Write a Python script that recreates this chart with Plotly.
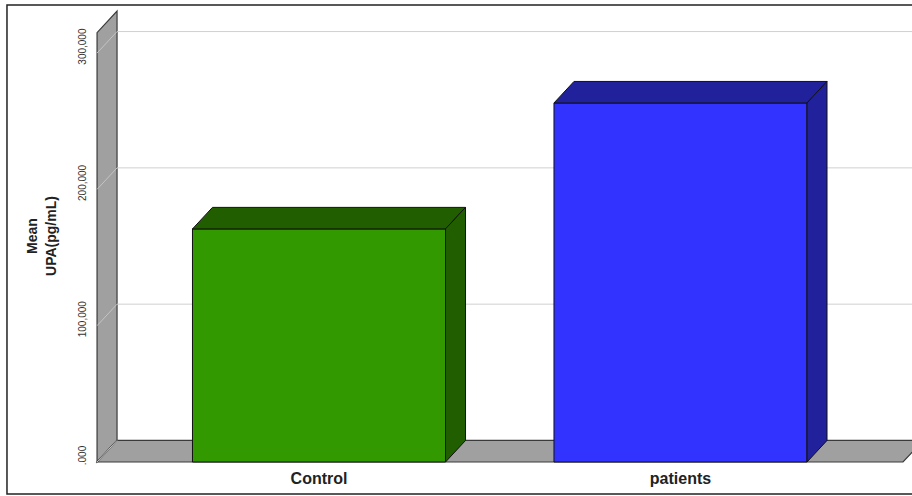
import plotly.graph_objects as go

# ---- data ----
categories = ["Control", "patients"]
mean_upa = [171000, 263400]
tick_values = [0, 100000, 200000, 300000]
tick_labels = [".000", "100,000", "200,000", "300,000"]

front_colors = ["#339900", "#3333FF"]
dark_colors = ["#215E00", "#21219C"]

# ---- geometry / style constants ----
BAR_W = 0.70
DX = 0.0553          # depth offset in x-axis units
DY = 15800           # depth offset in y-axis units
X_LEFT = -0.614      # wall front position
X_RIGHT = 1.6155     # floor right front corner
Y_TOP = 315000       # wall height
X_RANGE = [-0.6335, 1.6404]
Y_RANGE = [-2935, 334556]

xpos = list(range(len(categories)))

fig = go.Figure()

# front faces
fig.add_trace(go.Bar(
    x=xpos, y=mean_upa, width=BAR_W, base=0,
    marker=dict(color=front_colors, line=dict(color="#111111", width=1)),
    hoverinfo="skip", showlegend=False,
))

# top and side faces
for i, v in enumerate(mean_upa):
    xl = xpos[i] - BAR_W / 2
    xr = xpos[i] + BAR_W / 2
    fig.add_trace(go.Scatter(
        x=[xl, xl + DX, xr + DX, xr, xl],
        y=[v, v + DY, v + DY, v, v],
        fill="toself", fillcolor=dark_colors[i], mode="lines",
        line=dict(color="#111111", width=1),
        hoverinfo="skip", showlegend=False,
    ))
    fig.add_trace(go.Scatter(
        x=[xr, xr, xr + DX, xr + DX, xr],
        y=[0, v, v + DY, DY, 0],
        fill="toself", fillcolor=dark_colors[i], mode="lines",
        line=dict(color="#111111", width=1),
        hoverinfo="skip", showlegend=False,
    ))

shapes = []
# wall
shapes.append(dict(
    type="path", xref="x", yref="y", layer="below",
    path=f"M {X_LEFT},0 L {X_LEFT},{Y_TOP} L {X_LEFT+DX},{Y_TOP+DY} L {X_LEFT+DX},{DY} Z",
    fillcolor="#A0A0A0", line=dict(color="#3a3a3a", width=1.2),
))
# floor
shapes.append(dict(
    type="path", xref="x", yref="y", layer="below",
    path=f"M {X_LEFT},0 L {X_RIGHT},0 L {X_RIGHT+DX},{DY} L {X_LEFT+DX},{DY} Z",
    fillcolor="#A0A0A0", line=dict(color="#3a3a3a", width=1.2),
))
# corner diagonal
shapes.append(dict(
    type="line", xref="x", yref="y", layer="below",
    x0=X_LEFT, y0=0, x1=X_LEFT + DX, y1=DY,
    line=dict(color="#c4c4c4", width=1),
))
# gridlines on back wall
for v in tick_values[1:]:
    shapes.append(dict(
        type="line", xref="x", yref="y", layer="below",
        x0=X_LEFT + DX, y0=v + DY, x1=X_RANGE[1] + 0.1, y1=v + DY,
        line=dict(color="#d0d0d0", width=1),
    ))
    shapes.append(dict(
        type="line", xref="x", yref="y", layer="below",
        x0=X_LEFT, y0=v, x1=X_LEFT + DX, y1=v + DY,
        line=dict(color="#c4c4c4", width=1),
    ))
# outer frame
shapes.append(dict(
    type="rect", xref="paper", yref="paper",
    x0=-0.101, y0=-0.0609, x1=1.06, y1=1.0022,
    line=dict(color="#222222", width=1.5), fillcolor="rgba(0,0,0,0)",
))

fig.update_layout(
    width=912, height=496,
    margin=dict(l=90, r=0, t=6, b=30),
    paper_bgcolor="white", plot_bgcolor="white",
    shapes=shapes,
    font=dict(family="Liberation Sans, Arial, sans-serif", color="#222222"),
    xaxis=dict(
        range=X_RANGE, tickvals=xpos, ticktext=categories,
        showgrid=False, zeroline=False, showline=False, ticks="",
        tickfont=dict(size=16, weight="bold", color="#222222"),
        ticklabelstandoff=1,
    ),
    yaxis=dict(
        range=Y_RANGE, tickvals=tick_values, ticktext=tick_labels,
        tickangle=-90, showgrid=False, zeroline=False, showline=False, ticks="",
        tickfont=dict(size=10, color="#333333"),
        ticklabelstandoff=1, ticklabelshift=-5,
        title=dict(text="Mean<br>UPA(pg/mL)", font=dict(size=14, weight="bold", color="#222222"), standoff=17),
        automargin=False,
    ),
    showlegend=False,
)

fig.write_html("out.html")
